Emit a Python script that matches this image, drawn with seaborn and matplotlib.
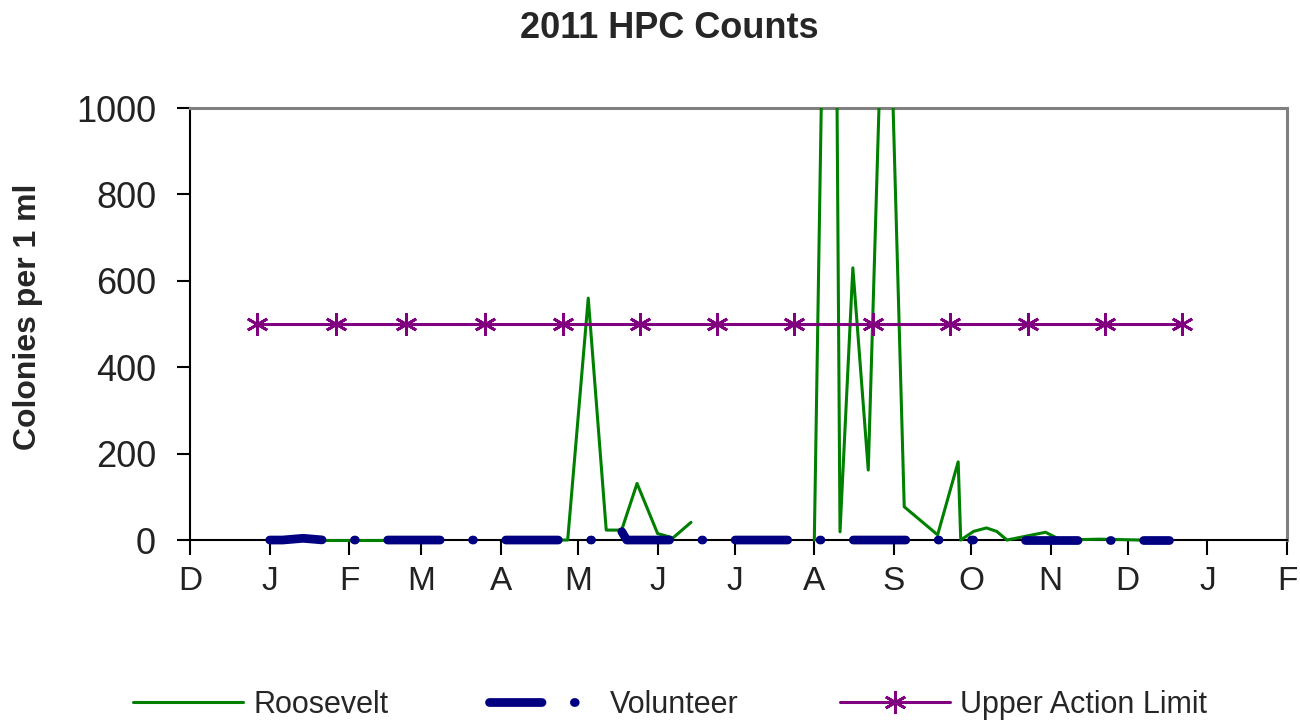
"""2011 HPC counts chart, redrawn with seaborn."""
import matplotlib
matplotlib.use("Agg")
import matplotlib.pyplot as plt
import matplotlib.dates as mdates
from matplotlib.ticker import FuncFormatter
from matplotlib.transforms import Bbox, TransformedBbox
import pandas as pd
import seaborn as sns

# Roosevelt samples (colonies per 1 ml); segment marks breaks in the line
roosevelt_dates = [
    "2011-01-04", "2011-01-18", "2011-02-01", "2011-02-15", "2011-03-01", "2011-03-08",
    "2011-04-06", "2011-04-20", "2011-04-27", "2011-05-05", "2011-05-12", "2011-05-18",
    "2011-05-24", "2011-06-01", "2011-06-07", "2011-06-14",
    "2011-08-01", "2011-08-08", "2011-08-11", "2011-08-16", "2011-08-22", "2011-08-29",
    "2011-09-05", "2011-09-18", "2011-09-26", "2011-09-27", "2011-10-02", "2011-10-07",
    "2011-10-11", "2011-10-15", "2011-10-30", "2011-11-05", "2011-11-20", "2011-12-06",
    "2011-12-12",
]
roosevelt_values = [
    0, 0, 0, 0, 0, 0,
    0, 0, 0, 560, 23, 23, 131, 15, 5, 41,
    0, 2600, 19, 630, 162, 1570, 77, 12, 181, 0, 20, 28, 20, 0, 18, 0, 2, 0, 0,
]
roosevelt_segment = [1] * 6 + [2] * 10 + [3] * 19

# Volunteer samples
volunteer_dates = [
    "2011-01-01", "2011-01-06", "2011-01-14", "2011-01-22", "2011-02-15", "2011-03-15",
    "2011-04-12", "2011-05-11", "2011-05-18", "2011-05-20", "2011-06-15", "2011-07-13",
    "2011-08-10", "2011-09-07", "2011-10-02",
    "2011-10-22", "2011-11-16", "2011-12-17",
]
volunteer_values = [0, 0, 4, 0, 0, 0, 0, 0, 20, 0, 0, 0, 0, 0, 0, 0, 0, 0]
volunteer_segment = [1] * 15 + [2] * 3

# Upper action limit
limit_dates = [
    "2010-12-27", "2011-01-27", "2011-02-23", "2011-03-26", "2011-04-25", "2011-05-25",
    "2011-06-24", "2011-07-24", "2011-08-24", "2011-09-23", "2011-10-23", "2011-11-22",
    "2011-12-22",
]
limit_values = [500] * 13

y_ticks = [0, 200, 400, 600, 800, 1000]


def main():
    sns.set_style("ticks")
    plt.rcParams["font.family"] = ["Liberation Sans", "DejaVu Sans"]

    roosevelt = pd.DataFrame({
        "date": pd.to_datetime(roosevelt_dates),
        "value": roosevelt_values,
        "segment": roosevelt_segment,
    })
    volunteer = pd.DataFrame({
        "date": pd.to_datetime(volunteer_dates),
        "value": volunteer_values,
        "segment": volunteer_segment,
    })
    limit = pd.DataFrame({"date": pd.to_datetime(limit_dates), "value": limit_values})

    fig = plt.figure(figsize=(13, 7.24), dpi=100)
    ax = fig.add_axes([0.1462, 0.2541, 0.8438, 0.5967])

    sns.lineplot(data=roosevelt, x="date", y="value", units="segment", estimator=None,
                 color="#008000", linewidth=2.2, label="Roosevelt", ax=ax, zorder=3)
    sns.lineplot(data=volunteer, x="date", y="value", units="segment", estimator=None,
                 color="#000080", linewidth=6.3, linestyle=(0, (6.0, 3.7, 0.1, 3.7)),
                 dash_capstyle="round", label="Volunteer", ax=ax, zorder=4)
    sns.lineplot(data=limit, x="date", y="value", color="#800080", linewidth=2.2,
                 marker=(6, 2, 0), markersize=16, markeredgewidth=2,
                 markeredgecolor="#800080", label="Upper Action Limit", ax=ax, zorder=5)

    # let the zero-level lines show fully over the bottom axis line
    clip = TransformedBbox(Bbox([[0, -0.03], [1, 1]]), ax.transAxes)
    for line in ax.lines:
        line.set_clip_box(clip)

    ax.set_xlim(pd.Timestamp("2010-12-01"), pd.Timestamp("2012-02-01"))
    ax.set_ylim(0, 1000)
    ax.set_yticks(y_ticks)
    ax.xaxis.set_major_locator(mdates.MonthLocator())
    ax.xaxis.set_major_formatter(
        FuncFormatter(lambda v, pos: mdates.num2date(v).strftime("%b")[0]))
    ax.set_xlabel("")
    ax.set_ylabel("")

    ax.tick_params(axis="x", direction="out", length=11, width=1.5, color="black",
                   labelsize=24, pad=8, labelcolor="#222222")
    ax.tick_params(axis="y", direction="out", length=9.5, width=1.5, color="black",
                   labelsize=26, pad=15, labelcolor="#222222")
    for side in ["top", "right"]:
        ax.spines[side].set_color("#808080")
        ax.spines[side].set_linewidth(2.2)
    for side in ["left", "bottom"]:
        ax.spines[side].set_color("black")
        ax.spines[side].set_linewidth(1.5)

    fig.text(669 / 1300, 1 - 29 / 724, "2011 HPC Counts", ha="center", va="center",
             fontsize=26, fontweight="bold")
    fig.text(28 / 1300, 1 - 317 / 724, "Colonies per 1 ml", rotation=90, ha="center",
             va="center", fontsize=23, fontweight="bold")

    handles, labels = ax.get_legend_handles_labels()
    uniq = dict(zip(labels, handles))
    ax.get_legend().remove()
    fig.legend(list(uniq.values()), list(uniq.keys()), loc="center",
               bbox_to_anchor=(670 / 1300, 1 - 705 / 724), ncol=3, frameon=False,
               fontsize=22, handlelength=3.6, handletextpad=0.35, columnspacing=3.3)

    fig.savefig("out.png", dpi=100)
    plt.close(fig)


if __name__ == "__main__":
    main()
